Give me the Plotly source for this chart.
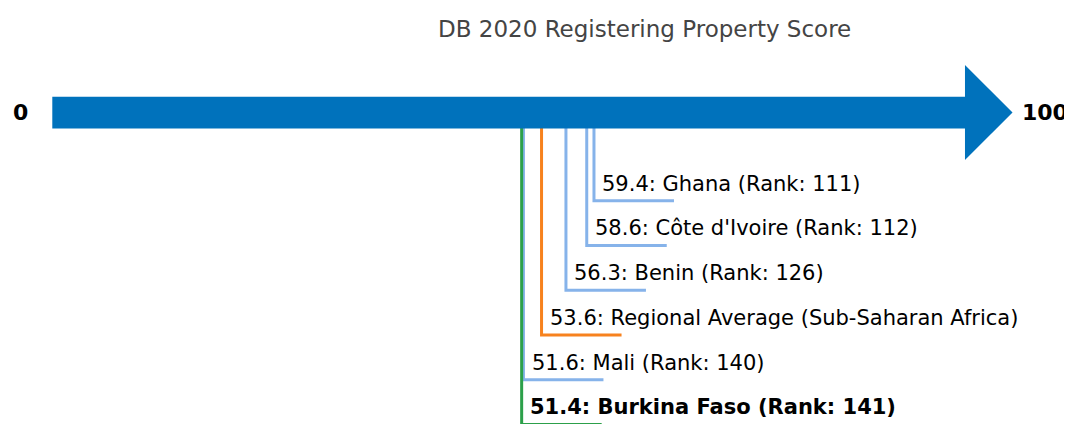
import plotly.graph_objects as go

# ---- data ----
labels = ["Ghana (Rank: 111)", "Côte d'Ivoire (Rank: 112)", "Benin (Rank: 126)",
          "Regional Average (Sub-Saharan Africa)", "Mali (Rank: 140)", "Burkina Faso (Rank: 141)"]
scores = [59.4, 58.6, 56.3, 53.6, 51.6, 51.4]
kinds = ["peer", "peer", "peer", "region", "peer", "focus"]
axis_min, axis_max = 0, 100
title_text = "DB 2020 Registering Property Score"

# ---- styles ----
colors = {"peer": "#86b3ea", "region": "#f7821e", "focus": "#2ca04a"}
bar_color = "#0072bc"
PAGE_OFF = 8  # default body margin of the written page
W, H = 1072, 424 - PAGE_OFF
px_per_unit = 9.04
x0_px = 57.0  # page pixel of score 0
x_lo = (PAGE_OFF - x0_px) / px_per_unit
x_hi = x_lo + W / px_per_unit

bar_top, bar_bot, bar_mid = 96.7, 128.4, 112.5
head_top, head_bot = 65, 160
left = -0.52
head_base = 100.44
tip = 105.7

row_y0 = 200.7
row_step = 44.75
seg_len = 80 / px_per_unit
text_dx = 6.5 / px_per_unit

fig = go.Figure()

for i, (lab, s, k) in enumerate(zip(labels, scores, kinds)):
    yy = row_y0 + i * row_step
    fig.add_trace(go.Scatter(
        x=[s, s, s + seg_len], y=[bar_mid, yy, yy], mode="lines",
        line=dict(color=colors[k], width=3), hoverinfo="skip", showlegend=False,
        cliponaxis=True))
    txt = f"{s}: {lab}"
    if k == "focus":
        txt = f"<b>{txt}</b>"
    fig.add_annotation(x=s + text_dx, y=yy - 17, text=txt, showarrow=False,
                       xanchor="left", yanchor="middle",
                       font=dict(family="DejaVu Sans", size=21, color="#000000"))

arrow_path = (f"M {left},{bar_top} L {head_base},{bar_top} L {head_base},{head_top} "
              f"L {tip},{bar_mid} L {head_base},{head_bot} L {head_base},{bar_bot} "
              f"L {left},{bar_bot} Z")
fig.add_shape(type="path", path=arrow_path, xref="x", yref="y",
              fillcolor=bar_color, line=dict(width=0), layer="above")

fig.add_annotation(x=axis_min - 4.0, y=bar_mid, text=f"<b>{axis_min}</b>", showarrow=False,
                   xanchor="center", yanchor="middle",
                   font=dict(family="DejaVu Sans", size=22, color="#000000"))
fig.add_annotation(x=axis_max + 9.25, y=bar_mid, text=f"<b>{axis_max}</b>", showarrow=False,
                   xanchor="center", yanchor="middle",
                   font=dict(family="DejaVu Sans", size=22, color="#000000"))

fig.add_annotation(x=(644.5 - x0_px) / px_per_unit, y=29, text=title_text, showarrow=False,
                   xanchor="center", yanchor="middle",
                   font=dict(family="DejaVu Sans", size=23, color="#444444"))

fig.update_layout(
    width=W, height=H, margin=dict(l=0, r=0, t=0, b=0),
    paper_bgcolor="white", plot_bgcolor="white",
    xaxis=dict(range=[x_lo, x_hi], visible=False, fixedrange=True),
    yaxis=dict(range=[424, PAGE_OFF], visible=False, fixedrange=True),
)

fig.write_html("out.html", config={"displayModeBar": False})
